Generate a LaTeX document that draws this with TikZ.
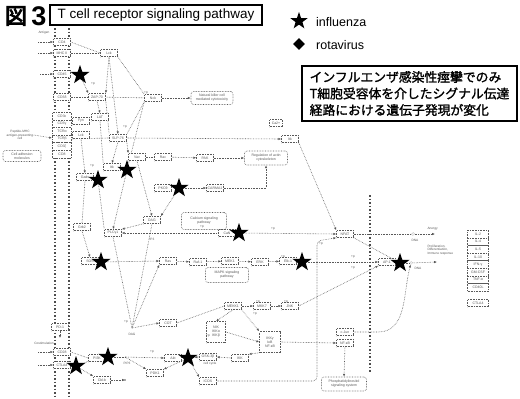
\documentclass[tikz,border=0pt]{standalone}
\usepackage{fontspec}
\setmainfont{Liberation Sans}
\newfontfamily\jpm[FakeBold=1.5]{Noto Sans CJK JP}
\newfontfamily\jpb[FakeBold=4]{Noto Sans CJK JP}
\usetikzlibrary{shapes.geometric,arrows.meta}
\pgfdeclarelayer{bg}
\pgfsetlayers{bg,main}
\tikzset{
 bx/.style={draw=black!65, densely dotted, line width=0.6pt, inner sep=0.6pt, minimum height=7pt, minimum width=17pt, font=\fontsize{3.5}{3.9}\selectfont, text=black!65, fill=white},
 rbx/.style={bx, rounded corners=2.5pt, align=center, inner sep=1.2pt},
 ln/.style={densely dotted, draw=black!65, line width=0.6pt},
 ar/.style={ln, -{Latex[length=2.8pt,width=2.4pt]}},
 starn/.style={star, star points=5, star point ratio=2.5, fill=black, inner sep=0pt, minimum size=20pt},
 mem/.style={draw=black!70, line width=1.5pt, dotted},
 lbl/.style={font=\fontsize{3.2}{3.6}\selectfont, text=black!65, inner sep=0.3pt, align=center},
 ring/.style={circle, draw=black!65, densely dotted, inner sep=0pt, minimum size=3pt},
}
\begin{document}
\begin{tikzpicture}[x=1pt,y=-1pt]
\useasboundingbox (0,0) rectangle (520,399);
% header
\node[font=\jpb\fontsize{22}{22}\selectfont, inner sep=0] (zu) at (16,16) {図};
\node[font=\bfseries\fontsize{27}{27}\selectfont, inner sep=0] (three) at (39,16) {3};
\node[draw, line width=1.4pt, minimum width=212pt, minimum height=20pt, font=\fontsize{13.5}{14}\selectfont, inner sep=0] (title) at (156,15) {T cell receptor signaling pathway};
\node[starn, minimum size=18pt] (ls) at (299,21) {};
\node[anchor=west, font=\fontsize{12.5}{13}\selectfont, inner sep=0] (li) at (316,22) {influenza};
\node[diamond, fill=black, inner sep=0, minimum size=12pt] (ld) at (299,44) {};
\node[anchor=west, font=\fontsize{12.5}{13}\selectfont, inner sep=0] (lr) at (316,45) {rotavirus};
\node[draw, line width=1.4pt, minimum width=215pt, minimum height=55pt, align=left, font=\jpm\fontsize{12.8}{16.5}\selectfont, inner sep=2pt] (jb) at (409.5,93.5) {インフルエンザ感染性痙攣でのみ\\T細胞受容体を介したシグナル伝達\\経路における遺伝子発現が変化};
% membranes
\draw[mem] (55,28) -- (55,399);
\draw[mem] (69,28) -- (69,399);
\draw[mem, line width=1.1pt] (370,195) -- (370,372);
% nodes
\node[lbl] (apc) at (44,33) {Antigen};
\node[bx] (cd4) at (62,42) {CD4};
\node[bx] (tcra) at (62,53) {MHC II};
\node[bx] (lck) at (109,53) {Lck};
\node[bx] (cd45) at (62,74) {CD45};
\node[bx] (cd3d) at (62,97) {CD3δ};
\node[bx] (zap) at (97,97) {ZAP-70};
\node[bx] (nck) at (153,98) {Nck};
\node[rbx, minimum width=42pt, minimum height=13pt] (nkc) at (212,98) {Natural killer cell\\mediated cytotoxicity};
\foreach[count=\i] \t in {CD3ε,CD3γ,TCRα,TCRβ,CD3ζ,CD8}
  \node[bx, minimum width=19pt, minimum height=7.6pt] (s\i) at (62,116+7.6*\i-7.6) {\t};
\node[bx] (fyn) at (81,121) {Fyn};
\node[bx] (lckb) at (81,135) {Lck};
\node[bx] (lat) at (100,117) {LAT};
\node[bx] (slp) at (118,138) {SLP-76};
\node[lbl] (agl) at (20,135) {Peptide-MHC\\antigen-presenting\\cell};
\node[rbx, minimum width=38pt, minimum height=11pt] (cam) at (22,156) {Cell adhesion\\molecules};
\node[bx] (vav) at (137,157) {Vav};
\node[bx] (rac) at (163,157) {Rac};
\node[bx] (pak) at (205,158) {PAK};
\node[rbx, minimum width=43pt, minimum height=14pt] (act) at (266,158) {Regulation of actin\\cytoskeleton};
\node[bx] (itk2) at (290,139) {Itk};
\node[bx, minimum width=13pt] (ca) at (276,123) {Ca2+};
\node[bx] (itk) at (112,167) {Itk};
\node[bx] (gads) at (85,177) {Gads};
\node[bx] (pkc) at (163,188) {PKCθ};
\node[bx] (carma) at (215,188) {CARMA1};
\node[bx] (grb2) at (82,227) {Grb2};
\node[bx] (plc) at (113,233) {PLCγ1};
\node[bx] (dag) at (152,220) {DAG};
\coordinate (ip3) at (148,233);
\node[lbl] at (152,239) {IP3};
\node[bx] (sos) at (90,261) {SOS};
\node[bx] (ras) at (168,261) {Ras};
\node[rbx, minimum width=45pt, minimum height=17pt] (casp) at (204,221) {Calcium signaling\\pathway};
\node[bx] (can) at (227,233) {CaN};
\node[bx] (nfat) at (345,234) {NFAT};
\node[bx] (raf) at (198,262) {Raf-1};
\node[bx] (mek) at (230,261) {MEK1};
\node[bx] (erk) at (260,262) {ERK};
\node[bx] (fos) at (288,261) {Elk-1};
\node[bx] (ap1) at (387,262) {AP-1};
\node[rbx, minimum width=43pt, minimum height=15pt] (mapk) at (227,275) {MAPK signaling\\pathway};
\node[bx] (mekk) at (233,306) {MEKK1};
\node[bx] (mkk) at (262,306) {MKK7};
\node[bx] (jnk) at (290,306) {JNK};
\node[bx] (cot) at (168,323) {COT};
\coordinate (nik) at (132,328);
\node[lbl] at (132,334) {DAG};
\node[bx, align=center, minimum width=19pt, minimum height=21pt] (ikk) at (216,332) {NIK\\IKKα\\IKKβ};
\node[bx, align=center, minimum width=21pt, minimum height=21pt] (ikb) at (270,342) {IKKγ\\IκB\\NF-κB};
\node[bx] (jun) at (345,332) {c-Jun};
\node[bx] (nfkb) at (345,343) {NF-κB};
\node[rbx, minimum width=45pt, minimum height=14pt] (pis) at (344,384) {Phosphatidylinositol\\signaling system};
\node[bx] (pd1) at (60,327) {PD-1};
\node[bx] (cd28) at (62,352) {CD28};
\node[bx] (ctla) at (62,365) {CTLA4};
\node[lbl] (cos) at (44,343) {Costimulation};
\node[bx] (pi3k) at (97,358) {PI3K};
\node[bx] (cbl) at (102,380) {Cbl-b};
\coordinate (cblend) at (125,380);
\coordinate (pip3) at (125,357);
\node[lbl] at (127,363) {PIP3};
\node[bx] (pdk) at (155,373) {PDK1};
\node[bx] (akt) at (173,358) {Akt};
\node[bx] (gsk) at (208,357) {GSK-3β};
\node[lbl] at (210,364) {cell cycle};
\node[bx] (ikkx) at (240,358) {IKK};
\node[bx] (icos) at (208,381) {ICOS};
\foreach[count=\i] \g in {IL-2,IL-4,IL-5,IL-10,IFN-γ,GM-CSF,TNF-α,CD40L}
  \node[bx, minimum width=21pt, minimum height=7.5pt] (g\i) at (478,226.5+7.6*\i) {\g};
\node[bx, minimum width=21pt] (ctlb) at (478,303) {CTLA4};
\node[lbl, anchor=west] (anl) at (427,229) {Anergy};
\node[lbl, anchor=west, align=left] (prl) at (427,250) {Proliferation,\\Differentiation,\\Immune response};
\node[ring] (r1) at (413,234) {};
\node[lbl] at (415,240) {DNA};
\node[ring] (r2) at (411,263) {};
\node[lbl] at (418,268) {DNA};
\coordinate (e1) at (435,234);
\coordinate (e2) at (437,262);
% small p labels
\foreach \p/\q in {93/84, 146/93, 125/127, 92/166, 202/227, 273/229, 283/257, 258/302, 286/302, 353/257, 353/268, 126/322, 321/244, 152/352, 208/336, 255/314}
  \node[lbl] at (\p,\q) {+p};
% stars
\foreach \n/\p/\q in {st1/80/75, st2/127/170, st3/98/180, st4/179/188, st5/239/233, st6/101/262, st7/302/262, st8/400/263, st9/76/366, st10/108/357, st11/188/358}
  \node[starn] (\n) at (\p,\q) {};
% connectors
\begin{pgfonlayer}{bg}
\draw[ar] (38,42) -- (cd4.west);
\draw[ar] (38,53) -- (tcra.west);
\draw[ar] (40,74) -- (cd45.west);
\draw[ln] (cd4.east) -- (lck.west);
\draw[ln] (tcra) -- (lck);
\draw[ar] (lck.south) -- (zap.north east);
\draw[ar] (lck.south) -- (slp.north);
\draw[ln] (lck.south east) -- (nck.north west);
\draw[ar] (st1) -- (zap.north west);
\draw[ln] (cd3d) -- (zap);
\draw[ln] (zap) -- (nck);
\draw[ar] (nck) -- (nkc);
\draw[ar] (zap.south) -- (lat.north);
\draw[ln] (zap.south east) -- (slp.north west);
\draw[ln] (nck.south west) -- (slp.north east);
\draw[ln] (nck.south west) -- (st2);
\draw[ar] (agl.east) -- (52,138);
\draw[ln] (s4.east) -- (slp.west);
\draw[ar] (slp.east) -- (itk2.west);
\draw[ar] (slp.south) -- (itk.north);
\draw[ar] (slp.south east) -- (vav.north west);
\draw[ar] (lckb.south) -- (gads.north);
\draw[ln] (lat.south) -- (itk.north west);
\draw[ln] (vav) -- (rac);
\draw[ar] (rac) -- (pak);
\draw[ar] (pak) -- (act);
\draw[ar] (itk2.south east) -- (nfat.north west);
\draw[ar] (vav.south) -- (dag.north);
\draw[ar] (st4) -- (dag.north east);
\draw[ar] (st4) -- (carma.west);
\draw[ar] (carma.east) -| (act.south);
\draw[ar] (st2) -- (plc.north);
\draw[ln] (gads.south) -- (grb2.north);
\draw[ar] (grb2.south) -- (sos.north);
\draw[ln] (st3) -- (plc.north west);
\draw[ar] (dag.south west) -- (plc.north east);
\draw[ln] (can.west) -- (ip3);
\draw[ar] (ip3) -- (plc.east);
\draw[ar] (st6) -- (ras.west);
\draw[ar] (ras) -- (raf);
\draw[ar] (raf) -- (mek);
\draw[ar] (mek) -- (erk);
\draw[ar] (erk) -- (fos);
\draw[ar] (st7) -- (ap1.west);
\draw[ar] (st5) -- (nfat.west);
\draw[ln] (plc.south) -- (nik);
\draw[ln] (dag.south) -- (nik);
\draw[ar] (nik) -- (cot.west);
\draw[ar] (nik) -- (ras.south west);
\draw[ln] (mekk.west) -- (cot.east);
\draw[ar] (mekk) -- (mkk);
\draw[ar] (mkk) -- (jnk);
\draw[ar] (jnk.east) -- (ap1.south west);
\draw[ar] (mekk.south) -- (ikk.north);
\draw[ar] (mekk.south east) -- (ikb.north west);
\draw[ar] (ikk.east) -- (ikb.west);
\draw[ar] (ikb.east) -- (nfkb.west);
\draw[ar] (nfkb.south) -- (pis.north);
\draw[ar] (jun.east) -- (378,332) to[out=0,in=-105] (r2);
\draw[ar] (ikb.south west) -- (ikkx.north east);
\draw[ar] (ikkx.west) -- (gsk.east);
\draw[ar] (gsk.west) -- (st11);
\draw[ln] (st10) -- (pip3);
\draw[ar] (pip3) -- (akt.west);
\draw[ar] (pip3) -- (pdk.north west);
\draw[ar] (st11) -- (pdk.north east);
\draw[ar] (st11) -- (icos.north west);
\draw[ar, rounded corners=4pt] (icos.east) -- (317,381) -- (317,241) -- (nfat.south west);
\draw[ln] (cd28.east) -- (pi3k.west);
\draw[ln] (st9) -- (pi3k);
\draw[ar] (st9) -- (cbl.north west);
\draw[ar] (cbl.east) -- (cblend);
\fill[black!65] (cblend) circle (0.9pt);
\draw[ar] (38,352) -- (cd28.west);
\draw[ar] (38,365) -- (ctla.west);
\draw[ar] (pd1.south) -- (60,338);
\draw[ln] (nfat.east) -- (r1);
\draw[ar] (r1) -- (e1);
\draw[ln] (nfat.south east) -- (st8);
\draw[ln] (st8) -- (r2);
\draw[ar] (r2) -- (e2);
\end{pgfonlayer}
\end{tikzpicture}
\end{document}
